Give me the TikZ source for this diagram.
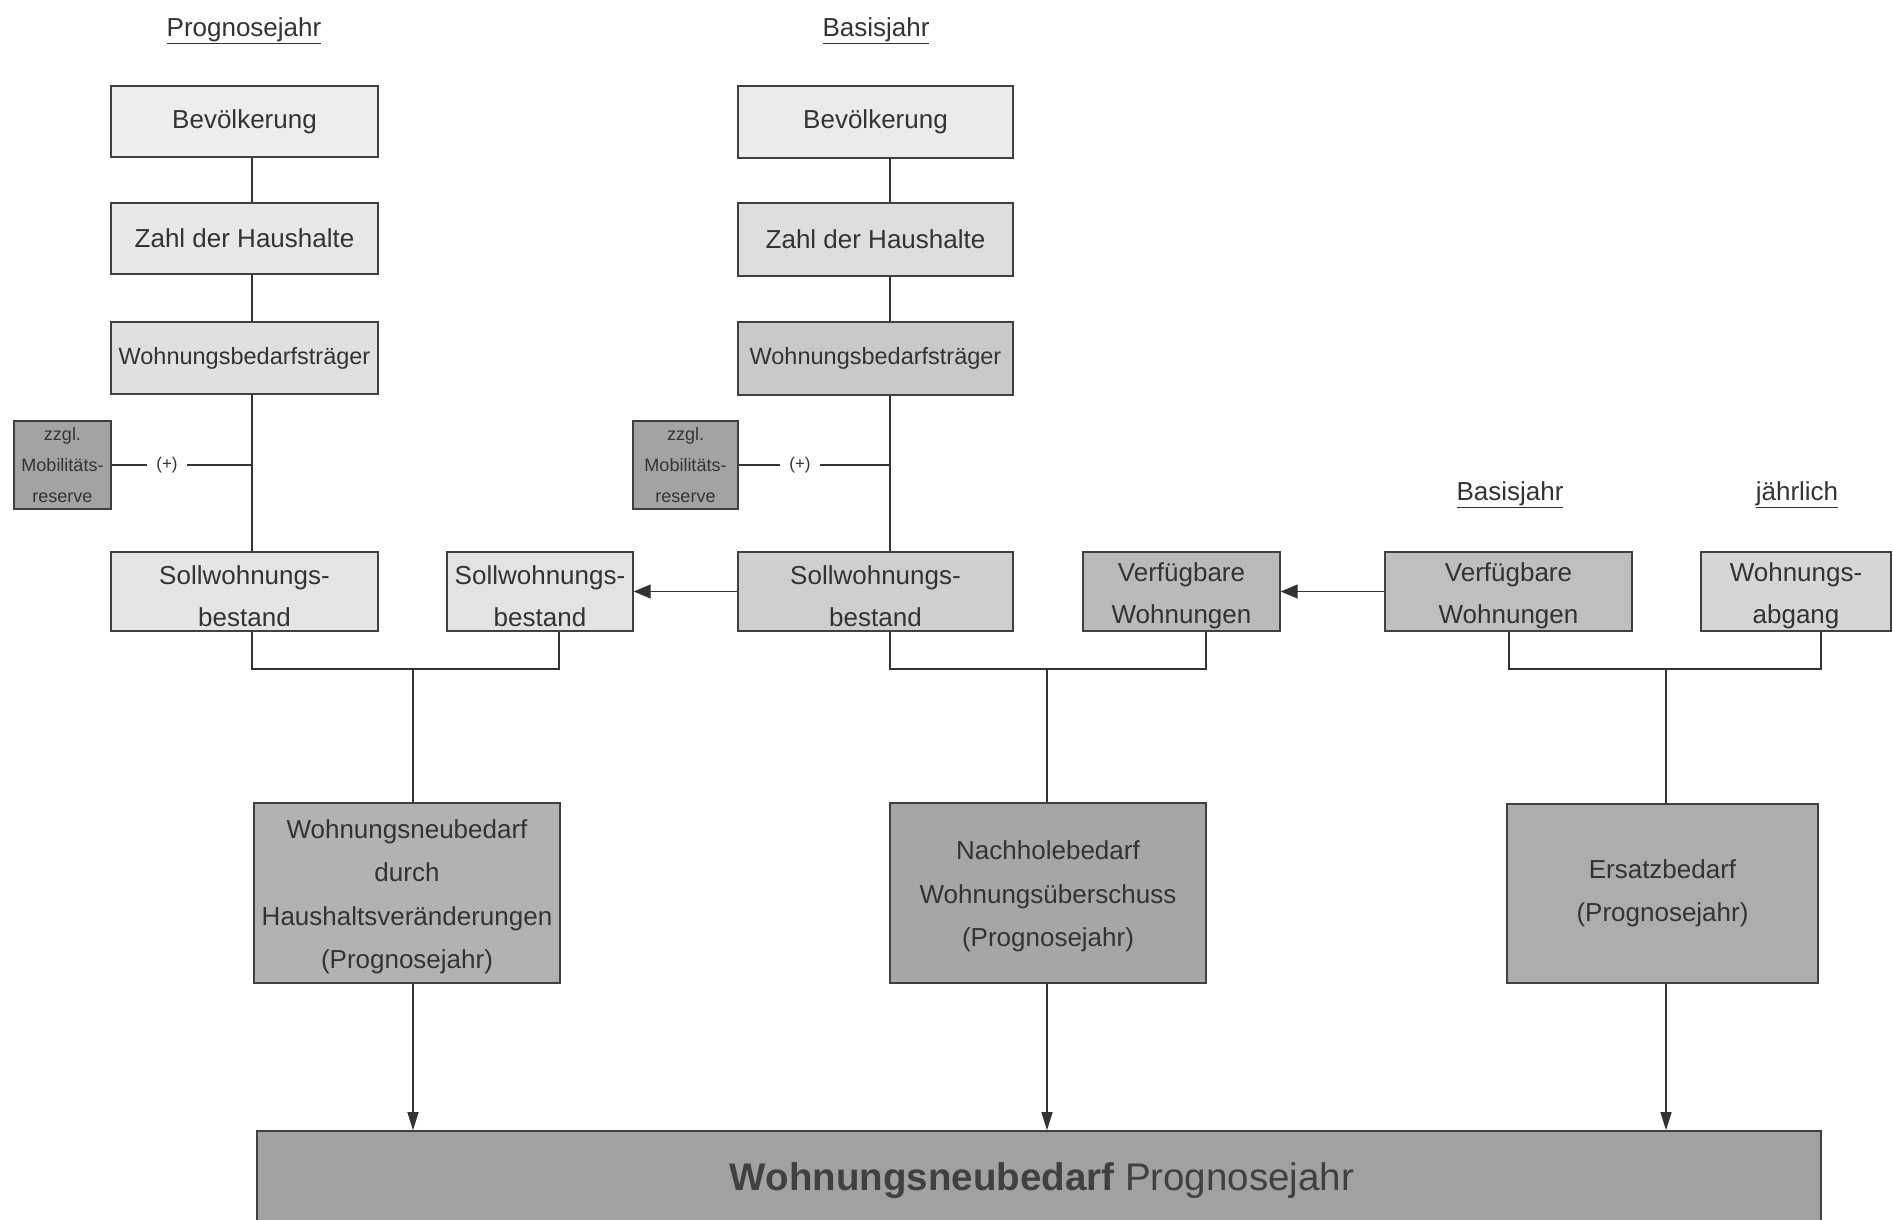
\documentclass[tikz,border=0pt]{standalone}
\usepackage{fontspec}
\setmainfont{Liberation Sans}
\usetikzlibrary{arrows.meta,calc}
\definecolor{ink}{HTML}{333333}
\definecolor{edge}{HTML}{404040}
\begin{document}
\begin{tikzpicture}[x=1pt,y=-1pt,
  box/.style={draw=edge, line width=1.4pt, align=center, text=ink, inner sep=0pt,
    font=\fontsize{26}{42}\selectfont},
  twoline/.style={box, text height=70pt},
  tall/.style={box, font=\fontsize{26}{43.5}\selectfont},
  small/.style={box, font=\fontsize{18}{31}\selectfont},
  conn/.style={draw=ink, line width=1.4pt},
  arr/.style={conn, -{Triangle[length=17pt,width=14pt]}},
  darr/.style={conn, -{Triangle[length=18pt,width=11pt]}},
  title/.style={text=ink, font=\fontsize{26}{30}\selectfont, inner sep=0pt},
  plus/.style={text=ink, font=\fontsize{17}{20}\selectfont, inner sep=9pt}]
\clip (0,0) rectangle (1893,1219);
\fill[white] (0,0) rectangle (1893,1219);

% titles
\node[title] (tP) at (244,31) {\underline{Prognosejahr}};
\node[title] (tB) at (876,31) {\underline{Basisjahr}};
\node[title] (tB2) at (1510,495) {\underline{Basisjahr}};
\node[title] (tJ) at (1797,495) {\underline{jährlich}};

% left column
\node[box, fill=black!7, minimum width=267pt, minimum height=71pt] (lb1) at (244.5,121.5) {Bevölkerung};
\node[box, fill=black!9, minimum width=267pt, minimum height=71pt] (lb2) at (244.5,238.5) {Zahl der Haushalte};
\node[box, fill=black!12, minimum width=267pt, minimum height=72pt, font=\fontsize{23.5}{30}\selectfont] (lb3) at (244.5,358) {Wohnungsbedarfsträger};
\node[small, fill=black!36, minimum width=97pt, minimum height=88pt] (lz) at (62.5,465) {zzgl.\\Mobilitäts-\\reserve};
\node[plus] (plL) at (167,465) {(+)};
\node[twoline, fill=black!10, minimum width=267pt, minimum height=79pt] (ls) at (244.5,591.5) {Sollwohnungs-\\bestand};
\node[twoline, fill=black!11, minimum width=186pt, minimum height=79pt] (s2) at (540,591.5) {Sollwohnungs-\\bestand};

% middle column
\node[box, fill=black!8, minimum width=275pt, minimum height=72pt] (mb1) at (875.5,122) {Bevölkerung};
\node[box, fill=black!13, minimum width=275pt, minimum height=73pt] (mb2) at (875.5,239.5) {Zahl der Haushalte};
\node[box, fill=black!21, minimum width=275pt, minimum height=73pt, font=\fontsize{23.5}{30}\selectfont] (mb3) at (875.5,358.5) {Wohnungsbedarfsträger};
\node[small, fill=black!36, minimum width=105pt, minimum height=88pt] (mz) at (685.5,465) {zzgl.\\Mobilitäts-\\reserve};
\node[plus] (plM) at (800,465) {(+)};
\node[twoline, fill=black!19, minimum width=275pt, minimum height=79pt] (ms) at (875.5,591.5) {Sollwohnungs-\\bestand};
\node[twoline, fill=black!27, minimum width=197pt, minimum height=79pt] (v) at (1181.5,591.5) {Verfügbare\\Wohnungen};

% right column
\node[twoline, fill=black!25, minimum width=247pt, minimum height=79pt] (vb) at (1508.5,591.5) {Verfügbare\\Wohnungen};
\node[twoline, fill=black!16, minimum width=190pt, minimum height=79pt] (wa) at (1796,591.5) {Wohnungs-\\abgang};

% lower boxes
\node[tall, text height=157pt, fill=black!30, minimum width=306pt, minimum height=180pt] (n1) at (407,893) {Wohnungsneubedarf\\durch\\Haushaltsveränderungen\\(Prognosejahr)};
\node[tall, text height=113pt, fill=black!35, minimum width=316pt, minimum height=180pt] (n2) at (1048,893) {Nachholebedarf\\Wohnungsüberschuss\\(Prognosejahr)};
\node[tall, fill=black!32, minimum width=311pt, minimum height=179pt] (n3) at (1662.5,893.5) {Ersatzbedarf\\(Prognosejahr)};

% big box
\node[draw=edge, line width=1.6pt, fill=black!37, minimum width=1564pt, minimum height=100pt, inner sep=0pt] (big) at (1039,1181) {};
\node[text=black!75, font=\fontsize{38.5}{42}\selectfont, inner sep=0pt] (bigt) at (1042,1181) {\textbf{Wohnungsneubedarf} Prognosejahr};

% helper x positions
\coordinate (xL) at (252,0);
\coordinate (xM) at (890,0);
\coordinate (xS2) at (559,0);
\coordinate (xV) at (1206,0);
\coordinate (xVB) at (1509,0);
\coordinate (xA) at (1821,0);
\coordinate (jL) at (413,669);
\coordinate (jM) at (1047,669);
\coordinate (jR) at (1666,669);

% left chain
\draw[conn] (lb1.south -| xL) -- (lb2.north -| xL);
\draw[conn] (lb2.south -| xL) -- (lb3.north -| xL);
\draw[conn] (lb3.south -| xL) -- (ls.north -| xL);
\draw[conn] (lz.east) -- (plL.west);
\draw[conn] (plL.east) -- (plL -| xL);

% middle chain
\draw[conn] (mb1.south -| xM) -- (mb2.north -| xM);
\draw[conn] (mb2.south -| xM) -- (mb3.north -| xM);
\draw[conn] (mb3.south -| xM) -- (ms.north -| xM);
\draw[conn] (mz.east) -- (plM.west);
\draw[conn] (plM.east) -- (plM -| xM);

% horizontal arrows
\draw[arr] (ms.west) -- (s2.east);
\draw[arr] (vb.west) -- (v.east);

% brackets
\draw[conn] (ls.south -| xL) |- (jL) -| (s2.south -| xS2);
\draw[conn] (jL) -- (n1.north -| jL);
\draw[conn] (ms.south -| xM) |- (jM) -| (v.south -| xV);
\draw[conn] (jM) -- (n2.north -| jM);
\draw[conn] (vb.south -| xVB) |- (jR) -| (wa.south -| xA);
\draw[conn] (jR) -- (n3.north -| jR);

% down arrows
\draw[darr] (n1.south -| jL) -- (big.north -| jL);
\draw[darr] (n2.south -| jM) -- (big.north -| jM);
\draw[darr] (n3.south -| jR) -- (big.north -| jR);
\end{tikzpicture}
\end{document}
